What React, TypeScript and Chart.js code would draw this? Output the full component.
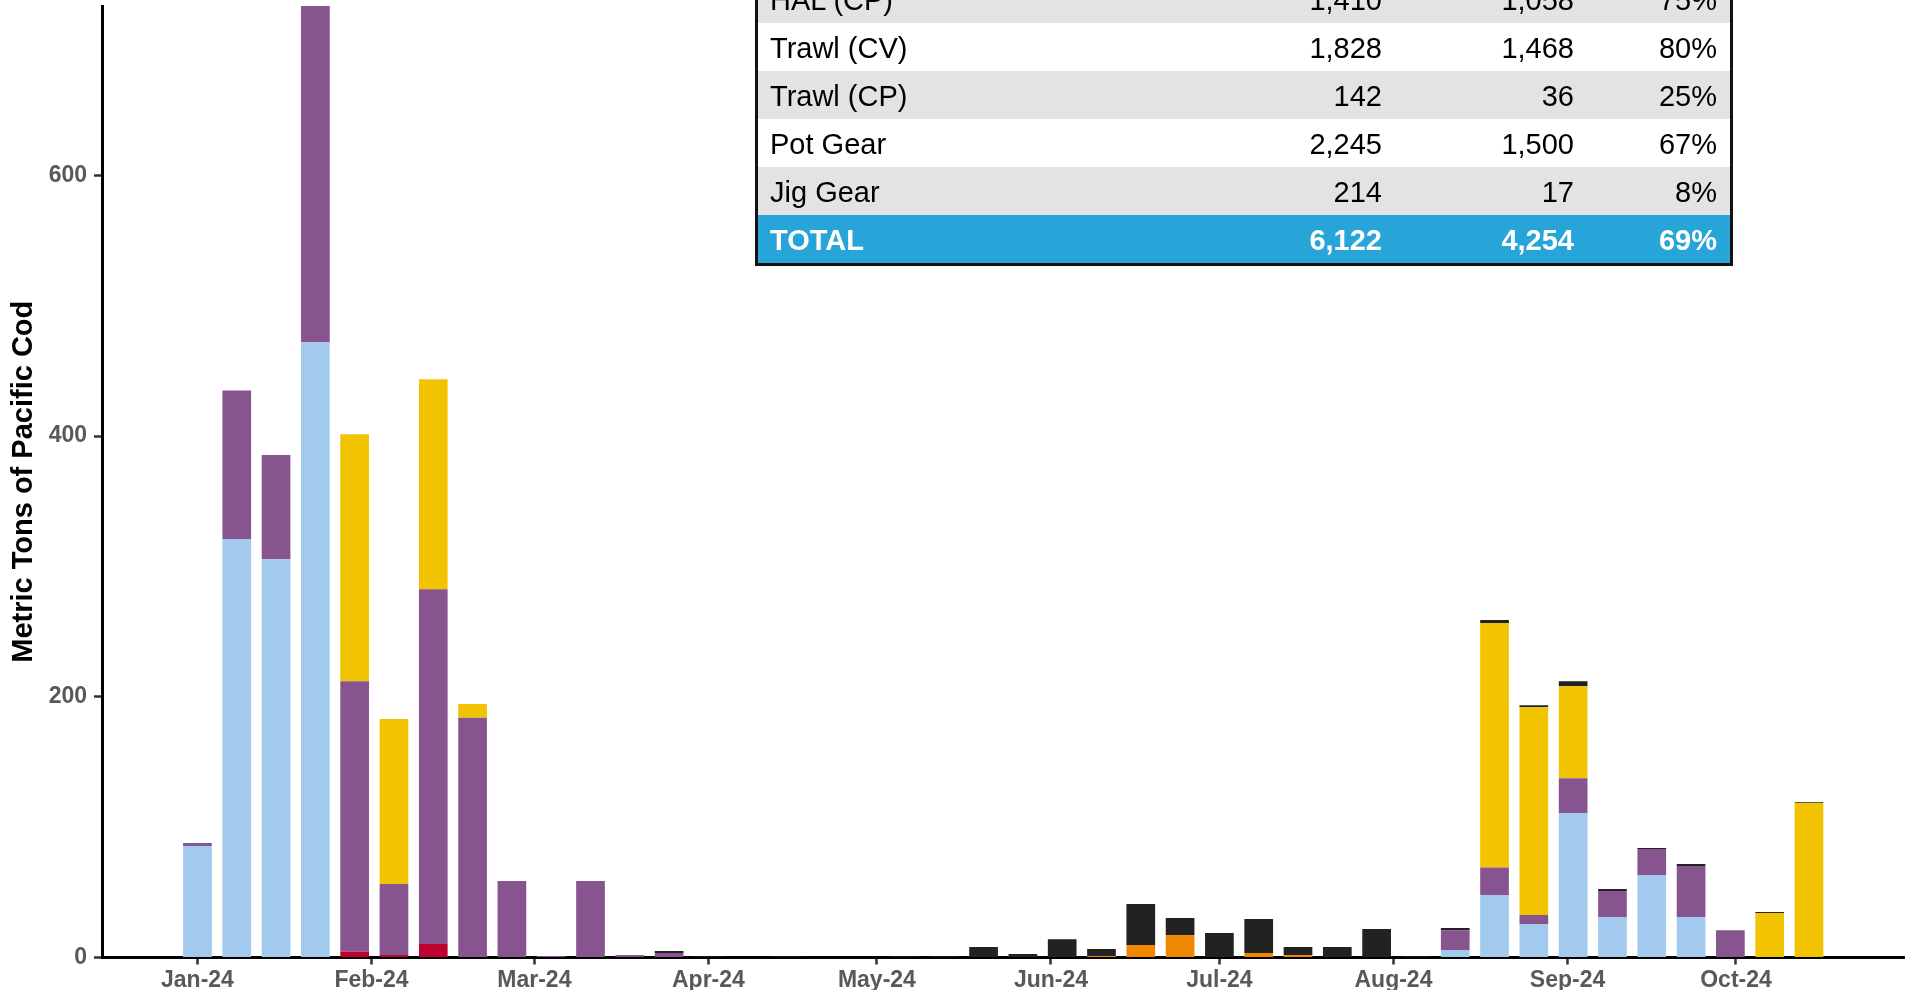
import React, { useEffect, useRef } from 'react';
import { Chart, registerables } from 'chart.js';

Chart.register(...registerables);

const FONT = '"Liberation Sans", Arial, sans-serif';

// Week start, in days since 1 Jan 2024
const weekDays = [
  0, 7, 14, 21, 28, 35, 42,
  49, 56, 63, 70, 77, 84, 91,
  98, 105, 112, 119, 126, 133, 140,
  147, 154, 161, 168, 175, 182, 189,
  196, 203, 210, 217, 224, 231, 238,
  245, 252, 259, 266, 273, 280, 287,
];

// Month tick positions (days since 1 Jan 2024) and labels
const monthTickDays = [0, 31, 60, 91, 121, 152, 182, 213, 244, 274];
const monthLabels = ['Jan-24', 'Feb-24', 'Mar-24', 'Apr-24', 'May-24', 'Jun-24', 'Jul-24', 'Aug-24', 'Sep-24', 'Oct-24'];
const yTickValues = [0, 200, 400, 600];

// Weekly catch by sector (metric tons)
const trawlCP = [
  0, 0, 0, 0, 4.5, 2, 10.4,
  0, 0, 0, 0, 0, 0, 0,
  0, 0, 0, 0, 0, 0, 0,
  0, 0, 0, 0, 0, 0, 0,
  0, 0, 0, 0, 0, 0, 0,
  0, 0, 0, 0, 0, 0, 0,
];
const jigGear = [
  0, 0, 0, 0, 0, 0, 0,
  0, 0, 0, 0, 0, 0, 0,
  0, 0, 0, 0, 0, 0, 0,
  0, 0, 1.2, 9.6, 17.3, 0, 3.4,
  2, 0, 0, 0, 0, 0, 0,
  0, 0, 0, 0, 0, 0, 0,
];
const potGear = [
  85.5, 321, 305.6, 472, 0, 0, 0,
  0, 0, 0, 0, 0, 0, 0,
  0, 0, 0, 0, 0, 0, 0,
  0, 0, 0, 0, 0, 0, 0,
  0, 0, 0, 0, 5.8, 48, 25.7,
  110.8, 31, 63.3, 31, 0, 0, 0,
];
const trawlCV = [
  2.3, 114, 80, 258, 207.5, 54.4, 272.2,
  184, 58.7, 1.2, 58.7, 2, 3.5, 0,
  0, 0, 0, 0, 0, 0, 0,
  0, 0, 0, 0, 0, 0, 0,
  0, 0, 0, 0, 15.2, 21, 6.9,
  26.8, 20, 19.9, 39.2, 21, 0, 0,
];
const halCP = [
  0, 0, 0, 0, 189.5, 126.6, 161,
  10.4, 0, 0, 0, 0, 0, 0,
  0, 0, 0, 0, 0, 0, 0,
  0, 0, 0, 0, 0, 0, 0,
  0, 0, 0, 0, 0, 187.6, 159.4,
  70.6, 0, 0, 0, 0, 34.1, 118.5,
];
const halCV = [
  0, 0, 0, 0, 0, 0, 0,
  0, 0, 0, 0, 0, 1.5, 1,
  0, 1, 0, 0, 1, 1, 8,
  2.7, 14, 5.3, 31.4, 13, 18.8, 26.1,
  6, 8, 21.9, 1, 1.6, 2.3, 1.6,
  3.8, 1.5, 0.8, 1.5, 0, 0.8, 0.7,
];

// Summary table
const tableSectors = ['HAL (CP)', 'Trawl (CV)', 'Trawl (CP)', 'Pot Gear', 'Jig Gear'];
const tableAllocation = ['1,410', '1,828', '142', '2,245', '214'];
const tableCatch = ['1,058', '1,468', '36', '1,500', '17'];
const tablePercent = ['75%', '80%', '25%', '67%', '8%'];
const tableTotal = ['TOTAL', '6,122', '4,254', '69%'];

function TableRow({ cells, bg, bold, color }: { cells: string[]; bg: string; bold?: boolean; color: string }) {
  const base: React.CSSProperties = { position: 'absolute', top: 1.5, whiteSpace: 'nowrap' };
  return (
    <div style={{ position: 'relative', height: 48, lineHeight: '48px', background: bg, color, fontWeight: bold ? 'bold' : 'normal' }}>
      <span style={{ ...base, left: 12 }}>{cells[0]}</span>
      <span style={{ ...base, right: 348 }}>{cells[1]}</span>
      <span style={{ ...base, right: 156 }}>{cells[2]}</span>
      <span style={{ ...base, right: 13 }}>{cells[3]}</span>
    </div>
  );
}

export default function App() {
  const ref = useRef<HTMLCanvasElement>(null);

  useEffect(() => {
    const canvas = ref.current;
    if (!canvas) return;
    const mk = (label: string, values: number[], color: string) => ({
      label,
      data: weekDays.map((d, i) => ({ x: d, y: values[i] })),
      backgroundColor: color,
      borderWidth: 0,
      categoryPercentage: 1,
      barPercentage: 0.73,
    });
    const tickFont = { family: FONT, size: 23, weight: 'bold' as const };
    const chart = new Chart(canvas, {
      type: 'bar',
      data: {
        datasets: [
          mk('Trawl (CP)', trawlCP, '#C00030'),
          mk('Jig Gear', jigGear, '#F08700'),
          mk('Pot Gear', potGear, '#A1CAEE'),
          mk('Trawl (CV)', trawlCV, '#87548F'),
          mk('HAL (CP)', halCP, '#F2C300'),
          mk('HAL (CV)', halCV, '#222222'),
        ] as any,
      },
      options: {
        animation: false,
        responsive: false,
        layout: { padding: { top: 6, left: 0, right: 0, bottom: 0 } },
        plugins: { legend: { display: false }, tooltip: { enabled: false } },
        scales: {
          x: {
            type: 'linear',
            stacked: true,
            min: -17,
            max: 304.1,
            offset: false,
            afterBuildTicks: (s: any) => {
              s.ticks = monthTickDays.map((v) => ({ value: v }));
            },
            afterFit: (s: any) => {
              s.height = 32.5;
              s.paddingLeft = 0;
              s.paddingRight = 0;
            },
            ticks: {
              callback: (_v: any, i: number) => monthLabels[i],
              font: tickFont,
              color: '#595959',
              maxRotation: 0,
              autoSkip: false,
              padding: 2,
            },
            grid: { offset: false, drawOnChartArea: false, drawTicks: true, tickLength: 7, tickWidth: 2.5, tickColor: '#333' },
            border: { display: true, color: '#000', width: 3 },
          },
          y: {
            stacked: true,
            min: 0,
            max: 730,
            afterBuildTicks: (s: any) => {
              s.ticks = yTickValues.map((v) => ({ value: v }));
            },
            afterFit: (s: any) => {
              s.width = 102;
              s.paddingTop = 0;
              s.paddingBottom = 0;
            },
            ticks: { font: tickFont, color: '#595959', padding: 7 },
            grid: { offset: false, drawOnChartArea: false, drawTicks: true, tickLength: 8, tickWidth: 2.5, tickColor: '#333' },
            border: { display: true, color: '#000', width: 3 },
            title: {
              display: true,
              text: 'Metric Tons of Pacific Cod',
              color: '#000',
              font: { family: FONT, size: 29, weight: 'bold' },
              padding: { top: 7, bottom: 0 },
            },
          },
        },
      } as any,
    });
    return () => chart.destroy();
  }, []);

  const rowBg = ['#E3E3E3', '#FFFFFF', '#E3E3E3', '#FFFFFF', '#E3E3E3'];

  return (
    <div style={{ position: 'fixed', left: 0, top: 0, width: 1905, height: 990, overflow: 'hidden', background: '#fff' }}>
      <canvas ref={ref} width={1905} height={990} style={{ position: 'absolute', left: 0, top: 0, width: 1905, height: 990 }} />
      <div
        style={{
          position: 'absolute',
          left: 755,
          top: -28.3,
          width: 978,
          boxSizing: 'border-box',
          border: '3px solid #111',
          fontFamily: FONT,
          fontSize: 29,
        }}
      >
        {tableSectors.map((s, i) => (
          <TableRow key={s} cells={[s, tableAllocation[i], tableCatch[i], tablePercent[i]]} bg={rowBg[i]} color="#000" />
        ))}
        <TableRow cells={tableTotal} bg="#27A5D8" bold color="#FFFFFF" />
      </div>
    </div>
  );
}
